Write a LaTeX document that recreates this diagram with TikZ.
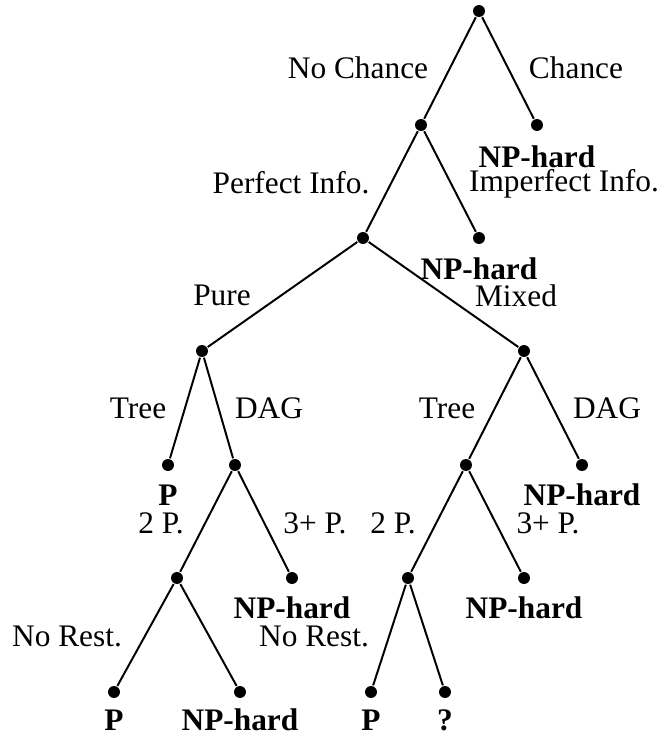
\documentclass[tikz,border=0pt]{standalone}
\usepackage{fontspec}
\setmainfont{Liberation Serif}
\usepackage{tikz}
\usetikzlibrary{positioning}
\tikzset{
    dot/.style={circle, fill, inner sep=0pt, minimum size=8.5pt},
    lbl/.style={inner sep=0pt, font=\fontsize{22.3}{26}\selectfont},
    res/.style={lbl, font=\fontsize{22.3}{26}\selectfont\bfseries}}

\begin{document}
\begin{tikzpicture}[x=0.025cm, y=-0.025cm, line width=1.4pt]
\useasboundingbox (0,0) rectangle (665,738);

% decision points
\node[dot] (root) at (479,11) {};
\node[dot] (nochance) at (421,125) {};
\node[dot] (chance) at (537,125) {};
\node[dot] (perfect) at (363,238) {};
\node[dot] (imperfect) at (479,238) {};
\node[dot] (pure) at (202,351) {};
\node[dot] (mixed) at (524,351) {};
\node[dot] (ptree) at (168,465) {};
\node[dot] (pdag) at (235,465) {};
\node[dot] (mtree) at (466,465) {};
\node[dot] (mdag) at (582,465) {};
\node[dot] (ptwo) at (177,578) {};
\node[dot] (pthree) at (292,578) {};
\node[dot] (mtwo) at (408,578) {};
\node[dot] (mthree) at (524,578) {};
\node[dot] (pnorest) at (114,692) {};
\node[dot] (prest) at (240,692) {};
\node[dot] (mnorest) at (371,692) {};
\node[dot] (mrest) at (445,692) {};

\draw (root) -- (nochance);
\draw (root) -- (chance);
\draw (nochance) -- (perfect);
\draw (nochance) -- (imperfect);
\draw (perfect) -- (pure);
\draw (perfect) -- (mixed);
\draw (pure) -- (ptree);
\draw (pure) -- (pdag);
\draw (mixed) -- (mtree);
\draw (mixed) -- (mdag);
\draw (pdag) -- (ptwo);
\draw (pdag) -- (pthree);
\draw (mtree) -- (mtwo);
\draw (mtree) -- (mthree);
\draw (ptwo) -- (pnorest);
\draw (ptwo) -- (prest);
\draw (mtwo) -- (mnorest);
\draw (mtwo) -- (mrest);

% branch labels
\node[lbl] (lnochance) at (358,68) {No Chance};
\node[lbl] (lchance) at (576,68) {Chance};
\node[lbl] (lperfect) at (291,183) {Perfect Info.};
\node[lbl] (limperfect) at (564,184) {Imperfect Info.};
\node[lbl] (lpure) at (222,295) {Pure};
\node[lbl] (lmixed) at (516,296) {Mixed};
\node[lbl] (lptree) at (138,408) {Tree};
\node[lbl] (lpdag) at (269,408) {DAG};
\node[lbl] (lmtree) at (447,408) {Tree};
\node[lbl] (lmdag) at (607,408) {DAG};
\node[lbl] (lptwo) at (161,523) {2 P.};
\node[lbl] (lpthree) at (315,523) {3+ P.};
\node[lbl] (lmtwo) at (393,523) {2 P.};
\node[lbl] (lmthree) at (548,523) {3+ P.};
\node[lbl] (lpnorest) at (67,636) {No Rest.};
\node[lbl] (lmnorest) at (314,636) {No Rest.};

% complexity results
\node[res, below=22.4pt of chance.center, anchor=center] (rchance) {NP-hard};
\node[res, below=21.6pt of imperfect.center, anchor=center] (rimperfect) {NP-hard};
\node[res, below=21.3pt of ptree.center, anchor=center] (rptree) {P};
\node[res, below=21.3pt of mdag.center, anchor=center] (rmdag) {NP-hard};
\node[res, below=21pt of pthree.center, anchor=center] (rpthree) {NP-hard};
\node[res, below=21pt of mthree.center, anchor=center] (rmthree) {NP-hard};
\node[res, below=20pt of pnorest.center, anchor=center] (rpnorest) {P};
\node[res, below=20pt of prest.center, anchor=center] (rprest) {NP-hard};
\node[res, below=20pt of mnorest.center, anchor=center] (rmnorest) {P};
\node[res, below=20pt of mrest.center, anchor=center] (rmrest) {?};
\end{tikzpicture}
\end{document}
